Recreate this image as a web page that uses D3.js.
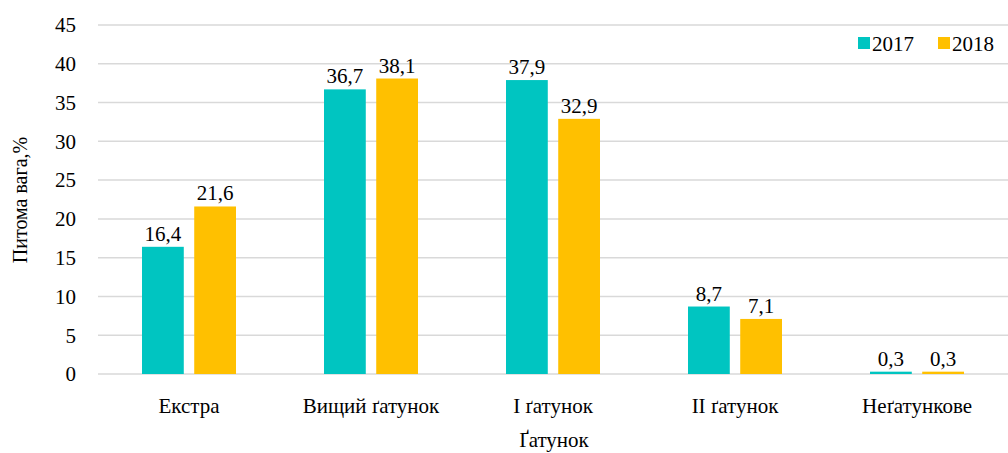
<!DOCTYPE html>
<html><head><meta charset="utf-8">
<script src="https://cdn.jsdelivr.net/npm/d3@7"></script>
<style>body{margin:0;background:#fff}svg{display:block}</style>
</head><body>
<svg id="c" width="1008" height="453" font-family="'Liberation Serif', Tinos, 'Times New Roman', 'DejaVu Serif', serif"></svg>
<script>
const categories = ["Екстра","Вищий ґатунок","I ґатунок","II ґатунок","Неґатункове"];
const series = ["2017","2018"];
const values2017 = [16.4, 36.7, 37.9, 8.7, 0.3];
const values2018 = [21.6, 38.1, 32.9, 7.1, 0.3];
const yTicks = [0,5,10,15,20,25,30,35,40,45];
const colors = ["#00C5C1","#FFC000"];

(function(){
const svg = d3.select("#c");
const mLeft = 98, mRight = 1008, mTop = 25, mBottom = 374;
const fs = 21;
const x = d3.scaleBand().domain(categories).range([mLeft, mRight]);
const xs = d3.scaleBand().domain(series).range([-47, 47]).paddingInner(0.2);
const y = d3.scaleLinear().domain([0,45]).range([mBottom, mTop]);

svg.append("g").selectAll("line").data(yTicks).join("line")
  .attr("x1", mLeft).attr("x2", mRight)
  .attr("y1", d=>y(d)).attr("y2", d=>y(d))
  .attr("stroke", "#d9d9d9").attr("stroke-width", 1.5);

svg.append("g").selectAll("text").data(yTicks).join("text")
  .attr("x", 76).attr("y", d=>y(d)).attr("dy","0.35em")
  .attr("text-anchor","end").attr("font-size", fs).text(d=>d);

const data = [values2017, values2018];
series.forEach((s,i)=>{
  const g = svg.append("g");
  g.selectAll("rect").data(categories).join("rect")
    .attr("x", c => x(c) + x.bandwidth()/2 + xs(s))
    .attr("width", xs.bandwidth())
    .attr("y", (c,j)=> y(data[i][j]))
    .attr("height", (c,j)=> y(0)-y(data[i][j]))
    .attr("fill", colors[i]);
  g.selectAll("text").data(categories).join("text")
    .attr("x", c => x(c) + x.bandwidth()/2 + xs(s) + xs.bandwidth()/2)
    .attr("y", (c,j)=> y(data[i][j]) - 6)
    .attr("text-anchor","middle").attr("font-size", fs)
    .text((c,j)=> String(data[i][j]).replace(".", ","));
});

svg.append("g").selectAll("text").data(categories).join("text")
  .attr("x", c=> x(c)+x.bandwidth()/2).attr("y", 413)
  .attr("text-anchor","middle").attr("font-size", fs).text(d=>d);

svg.append("text").attr("x", 554).attr("y", 447).attr("text-anchor","middle")
  .attr("font-size", fs).text("Ґатунок");

svg.append("text").attr("transform","translate(27,200) rotate(-90)")
  .attr("text-anchor","middle").attr("font-size", 20).text("Питома вага,%");

const lg = svg.append("g");
const lx = [858, 938];
series.forEach((s,i)=>{
  lg.append("rect").attr("x", lx[i]).attr("y", 37).attr("width", 12).attr("height", 12).attr("fill", colors[i]);
  lg.append("text").attr("x", lx[i]+14).attr("y", 51).attr("font-size", fs).text(s);
});
})();
</script>
</body></html>
